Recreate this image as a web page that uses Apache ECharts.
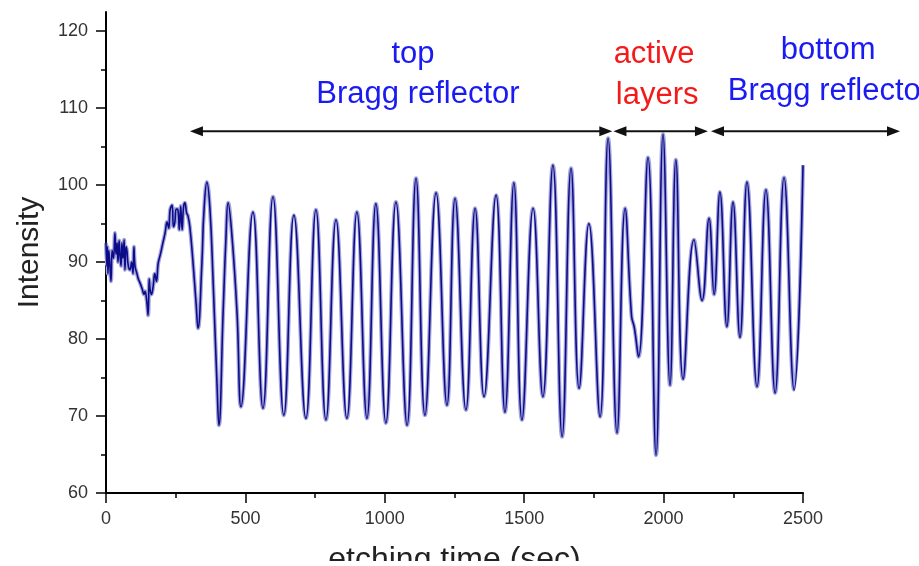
<!DOCTYPE html>
<html>
<head>
<meta charset="utf-8">
<script src="https://cdn.jsdelivr.net/npm/echarts@6/dist/echarts.min.js"></script>
<style>
html, body { margin: 0; padding: 0; background: #fff; }
#chart { width: 919px; height: 566px; }
</style>
</head>
<body>
<div id="chart"></div>
<script>
// etching time (sec) and reflected intensity
const time = [
  0, 3, 5, 7, 10, 14, 18, 22, 27, 32, 36, 40, 43, 47, 50, 54, 57, 61, 65, 68,
  72, 75, 80, 86, 92, 97, 100, 104, 111, 116, 122, 130, 136, 140, 146, 151, 155, 158, 163, 169,
  175, 181, 187, 195, 204, 212, 219, 225, 230, 237, 242, 247, 252, 258, 263, 268, 273, 278, 283, 289,
  294, 301, 312, 323, 330, 344, 351, 362, 373, 384, 398, 405, 420, 430, 438, 452, 470, 484,
  527, 563, 599, 638, 674, 717, 753, 789, 825, 864, 900, 936, 968, 1004, 1040, 1080, 1112, 1144,
  1184, 1223, 1252, 1291, 1324, 1356, 1399, 1431, 1463, 1492, 1532, 1567, 1603, 1636, 1668, 1697,
  1732, 1772, 1801, 1833, 1862, 1885, 1895, 1910, 1944, 1973, 1998, 2023, 2044, 2070, 2109, 2138,
  2163, 2181, 2202, 2227, 2249, 2274, 2299, 2335, 2367, 2400, 2432, 2468, 2500
];
const intensity = [
  92.5, 89.5, 92, 88.5, 91.5, 89.5, 87.5, 91.5, 90.5, 93.8, 91, 92.5, 90, 92.8, 91, 89.5, 92.5, 90.5, 92.9, 89,
  92, 91.5, 89.5, 89, 90, 88.5, 92, 89.5, 88.5, 87.8, 87.3, 86.5, 85.8, 86.2, 85, 83.1, 87.8, 86.5, 85.8, 86.8,
  88.5, 87.5, 89.8, 91, 92.5, 93.8, 95.2, 94.4, 96.8, 97.4, 94.6, 95.2, 96.9, 96.8, 94.2, 97.3, 94.2, 97.1, 97.7, 96.4,
  96, 94.5, 90, 84.7, 81.4, 89.9, 96.4, 100.4, 96.8, 87.7, 74.3, 68.8, 83.4, 92.9, 97.7, 93.3, 83.4, 71.2,
  96.5, 71, 98.5, 70.1, 96.1, 69.7, 96.8, 69.5, 95.5, 69.7, 96.5, 69.7, 97.6, 69.1, 97.8, 68.8, 100.9, 70.1,
  99, 71.4, 98.3, 70.8, 97, 72.5, 98.7, 70.5, 100.3, 69.5, 97, 72.5, 102.6, 67.3, 102.2, 73.6,
  95, 69.9, 106.1, 67.8, 97, 83, 81.5, 77.7, 103.6, 64.9, 106.6, 74, 103.3, 74.8, 92.9, 85,
  95.7, 85.8, 99.1, 81.6, 97.8, 80.2, 100.4, 73.8, 99.4, 73, 101, 73.4, 102.6
];

const xTicks = [0, 500, 1000, 1500, 2000, 2500];
const yTicks = [60, 70, 80, 90, 100, 110, 120];
const yMinorTicks = [65, 75, 85, 95, 105, 115];

// double-headed arrows marking the layer stacks
const arrowStart = [301, 1820, 2170];
const arrowEnd = [1816, 2159, 2848];
const arrowLevel = [107, 107, 107];

// region labels
const noteText = ['top', 'Bragg reflector', 'active', 'layers', 'bottom', 'Bragg reflector'];
const noteX = [1101, 1119, 1966, 1977, 2590, 2595];
const noteY = [117.0, 111.8, 117.0, 111.7, 117.5, 112.2];
const noteGroup = ['mirror', 'mirror', 'active', 'active', 'mirror', 'mirror'];

const groupColor = { mirror: '#1a1af2', active: '#f51a1a' };
const font = '"Liberation Sans", Arial, sans-serif';

const chart = echarts.init(document.getElementById('chart'));

const trace = time.map((t, i) => [t, intensity[i]]);
const arrows = arrowStart.map((s, i) => [s, arrowEnd[i], arrowLevel[i]]);
const notes = noteText.map((t, i) => [noteX[i], noteY[i], t, noteGroup[i]]);

const option = {
  animation: false,
  backgroundColor: '#fff',
  grid: { left: 106, right: 116, top: 12, bottom: 73, outerBoundsMode: 'none' },
  xAxis: {
    type: 'value',
    min: 0,
    max: 2500,
    interval: 500,
    name: 'etching time (sec)',
    nameLocation: 'middle',
    nameGap: 51,
    nameTextStyle: { fontSize: 32, color: '#222', fontFamily: font },
    axisLine: { onZero: false, lineStyle: { color: '#000', width: 2 } },
    axisTick: { length: 10, lineStyle: { color: '#000', width: 1.5 } },
    minorTick: { show: true, splitNumber: 2, length: 5, lineStyle: { color: '#000', width: 1.5 } },
    axisLabel: {
      customValues: xTicks,
      formatter: v => String(v),
      margin: 17,
      fontSize: 18,
      color: '#333',
      fontFamily: font
    },
    splitLine: { show: false }
  },
  yAxis: [
    {
      type: 'value',
      min: 60,
      max: 122.5,
      name: 'Intensity',
      nameLocation: 'middle',
      nameGap: 61,
      nameTextStyle: { fontSize: 30, color: '#222', fontFamily: font },
      axisLine: { lineStyle: { color: '#000', width: 2 } },
      axisTick: { customValues: yTicks, length: 10, lineStyle: { color: '#000', width: 1.5 } },
      axisLabel: {
        customValues: yTicks,
        formatter: v => String(v),
        margin: 18,
        fontSize: 18,
        color: '#333',
        fontFamily: font
      },
      splitLine: { show: false }
    },
    {
      type: 'value',
      min: 60,
      max: 122.5,
      position: 'left',
      axisLine: { show: false },
      axisTick: { customValues: yMinorTicks, length: 5, lineStyle: { color: '#000', width: 1.5 } },
      axisLabel: { show: false },
      splitLine: { show: false }
    }
  ],
  series: [
    {
      name: 'halo',
      type: 'line',
      data: trace,
      smooth: 0.45,
      showSymbol: false,
      lineStyle: { color: '#a4a4da', width: 4 },
      silent: true,
      z: 2
    },
    {
      name: 'Intensity',
      type: 'line',
      data: trace,
      smooth: 0.45,
      showSymbol: false,
      lineStyle: { color: '#0c0c8a', width: 1.6 },
      z: 3
    },
    {
      type: 'custom',
      data: arrows,
      encode: { x: [0, 1], y: 2 },
      clip: false,
      silent: true,
      z: 4,
      renderItem: (params, api) => {
        const a = api.coord([api.value(0), api.value(2)]);
        const b = api.coord([api.value(1), api.value(2)]);
        const len = 13, half = 5;
        return {
          type: 'group',
          children: [
            {
              type: 'line',
              shape: { x1: a[0] + len - 2, y1: a[1], x2: b[0] - len + 2, y2: b[1] },
              style: { stroke: '#111', lineWidth: 2 }
            },
            {
              type: 'polygon',
              shape: { points: [[a[0], a[1]], [a[0] + len, a[1] - half], [a[0] + len, a[1] + half]] },
              style: { fill: '#111' }
            },
            {
              type: 'polygon',
              shape: { points: [[b[0], b[1]], [b[0] - len, b[1] - half], [b[0] - len, b[1] + half]] },
              style: { fill: '#111' }
            }
          ]
        };
      }
    },
    {
      type: 'custom',
      data: notes,
      encode: { x: 0, y: 1 },
      clip: false,
      silent: true,
      z: 5,
      renderItem: (params, api) => {
        const p = api.coord([api.value(0), api.value(1)]);
        const d = notes[params.dataIndex];
        return {
          type: 'text',
          x: p[0],
          y: p[1],
          style: {
            text: d[2],
            fill: groupColor[d[3]],
            font: '31px ' + font,
            align: 'center',
            verticalAlign: 'middle'
          }
        };
      }
    }
  ],
  graphic: [
    {
      type: 'rect',
      left: 0,
      top: 561,
      z: 100,
      shape: { width: 919, height: 5 },
      style: { fill: '#fff' }
    }
  ]
};

chart.setOption(option);
</script>
</body>
</html>
